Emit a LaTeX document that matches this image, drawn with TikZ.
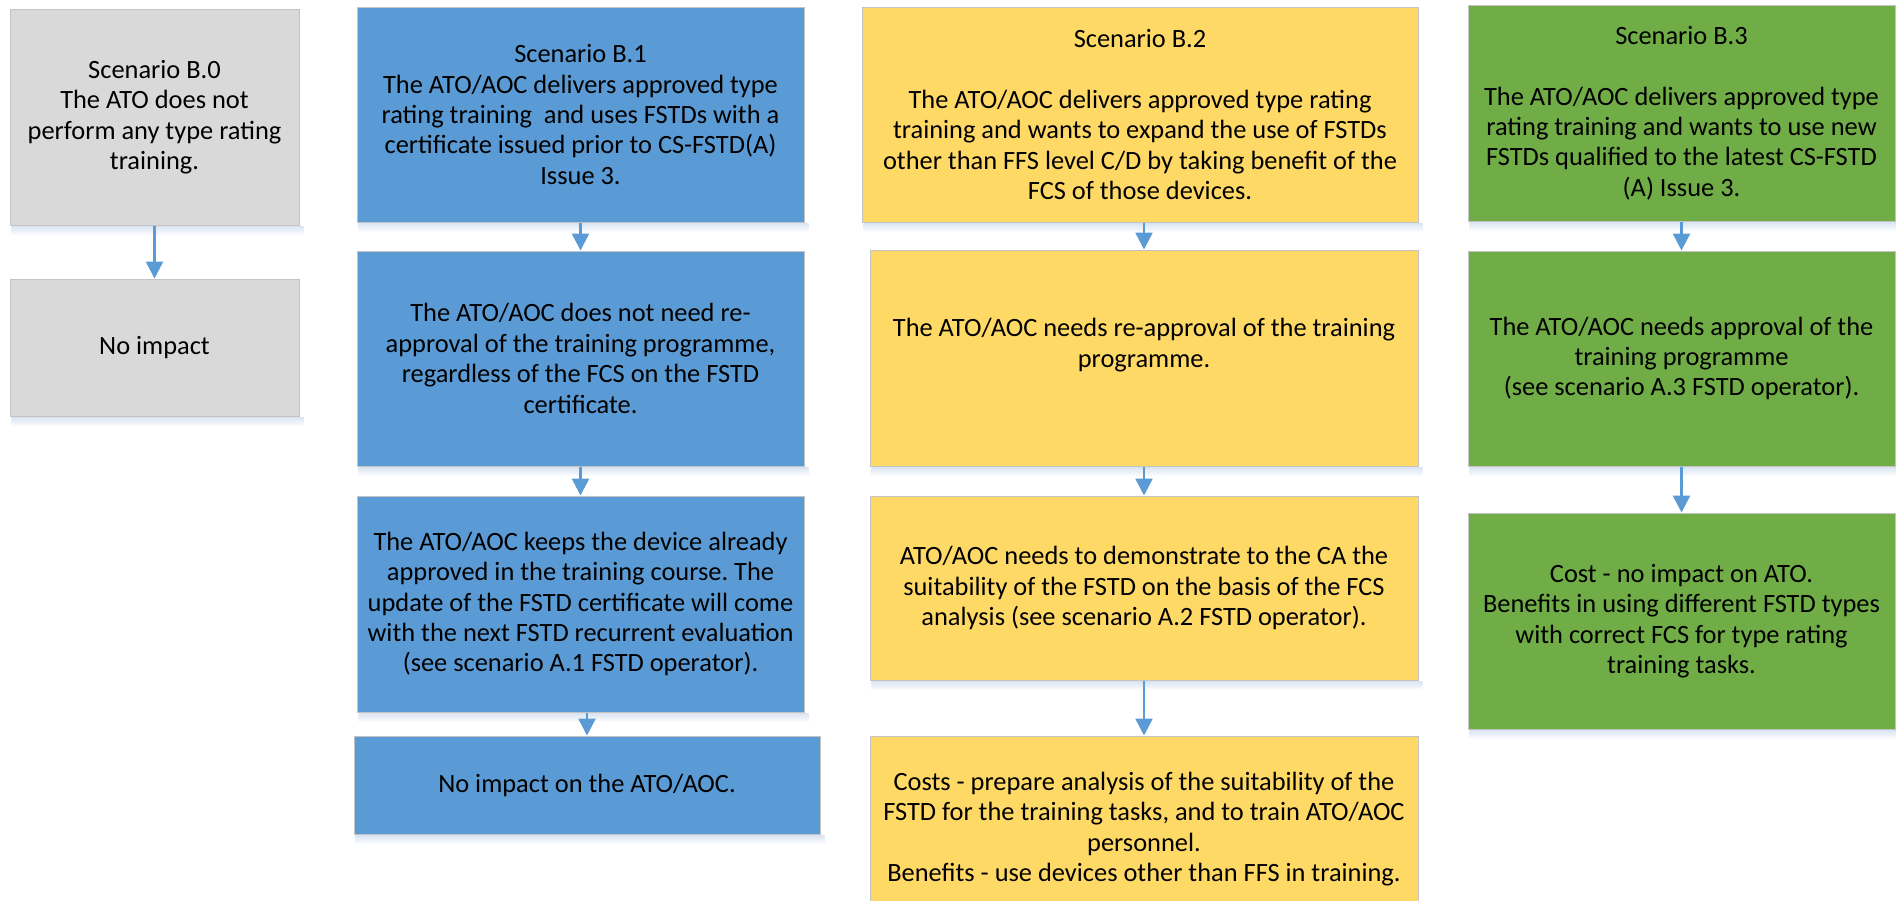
\documentclass[tikz,border=0pt]{standalone}
\usepackage{fontspec}
\setmainfont{Carlito}
\frenchspacing
\usetikzlibrary{arrows.meta}
\definecolor{cgray}{HTML}{D9D9D9}
\definecolor{cblue}{HTML}{5B9BD5}
\definecolor{cyellow}{HTML}{FFD966}
\definecolor{cgreen}{HTML}{70AD47}
\definecolor{cborder}{HTML}{C3C3C3}
\definecolor{cshadow}{HTML}{D9E4F2}
\definecolor{carrow}{HTML}{5B9BD5}
\tikzset{
  box/.style={rectangle, draw=cborder, line width=1pt, inner sep=0pt, align=center,
    font=\fontsize{26.4}{30.4}\selectfont, text=black},
  conn/.style={draw=carrow, line width=2.6pt, -{Triangle[width=17pt,length=17pt]}},
}
\begin{document}
\begin{tikzpicture}[x=1pt,y=-1pt]
\useasboundingbox (0,0) rectangle (1896,900);
\fill[white] (0,0) rectangle (1896,900);
% column B.0
\node[box, fill=cgray, minimum width=289pt, minimum height=216pt] (b0a) at (154.5,117)
  {Scenario B.0\\The ATO does not\\perform any type rating\\training.};
\node[box, fill=cgray, minimum width=289pt, minimum height=137pt] (b0b) at (154.5,347.5)
  {No impact};
% column B.1
\node[box, fill=cblue, minimum width=447pt, minimum height=215pt] (b1a) at (580.5,114.5)
  {Scenario B.1\\The ATO/AOC delivers approved type\\rating training~ and uses FSTDs with a\\certificate issued prior to CS-FSTD(A)\\Issue 3.};
\node[box, fill=cblue, minimum width=447pt, minimum height=215pt] (b1b) at (580.5,358.5)
  {The ATO/AOC does not need re-\\approval of the training programme,\\regardless of the FCS on the FSTD\\certificate.};
\node[box, fill=cblue, minimum width=447pt, minimum height=216pt] (b1c) at (580.5,604)
  {The ATO/AOC keeps the device already\\approved in the training course. The\\update of the FSTD certificate will come\\with the next FSTD recurrent evaluation\\(see scenario A.1 FSTD operator).};
\node[box, fill=cblue, minimum width=466pt, minimum height=98pt] (b1d) at (587,785)
  {No impact on the ATO/AOC.};
% column B.2
\node[box, fill=cyellow, minimum width=556pt, minimum height=215pt] (b2a) at (1140,114.5)
  {Scenario B.2\\[30.4pt]The ATO/AOC delivers approved type rating\\training and wants to expand the use of FSTDs\\other than FFS level C/D by taking benefit of the\\FCS of those devices.};
\node[box, fill=cyellow, minimum width=548pt, minimum height=216pt] (b2b) at (1144,358)
  {The ATO/AOC needs re-approval of the training\\programme.\\\mbox{}};
\node[box, fill=cyellow, minimum width=548pt, minimum height=184pt] (b2c) at (1144,588)
  {ATO/AOC needs to demonstrate to the CA the\\suitability of the FSTD on the basis of the FCS\\analysis (see scenario A.2 FSTD operator).};
\node[box, fill=cyellow, minimum width=548pt, minimum height=186pt] (b2d) at (1144,829)
  {Costs - prepare analysis of the suitability of the\\FSTD for the training tasks, and to train ATO/AOC\\personnel.\\Benefits - use devices other than FFS in training.};
% column B.3
\node[box, fill=cgreen, minimum width=427pt, minimum height=216pt] (b3a) at (1681.5,113)
  {Scenario B.3\\[30.4pt]The ATO/AOC delivers approved type\\rating training and wants to use new\\FSTDs qualified to the latest CS-FSTD\\(A) Issue 3.};
\node[box, fill=cgreen, minimum width=427pt, minimum height=215pt] (b3b) at (1681.5,358.5)
  {The ATO/AOC needs approval of the\\training programme\\(see scenario A.3 FSTD operator).};
\node[box, fill=cgreen, minimum width=427pt, minimum height=216pt] (b3c) at (1681.5,621)
  {Cost - no impact on ATO.\\Benefits in using different FSTD types\\with correct FCS for type rating\\training tasks.};
% soft shadows under the boxes
\foreach \n in {b0a,b0b,b1a,b1b,b1c,b1d,b2a,b2b,b2c,b3a,b3b,b3c}
  \shade[top color=cshadow, bottom color=white]
    ([xshift=2pt,yshift=-0.5pt]\n.south west) rectangle ([xshift=4pt,yshift=-10pt]\n.south east);
% connectors
\draw[conn] (b0a.south) -- (b0b.north);
\draw[conn] (b1a.south) -- (b1b.north);
\draw[conn] (b1b.south) -- (b1c.north);
\draw[conn] (b1c.south -| b1d.north) -- (b1d.north);
\draw[conn] (b2a.south -| b2b.north) -- (b2b.north);
\draw[conn] (b2b.south) -- (b2c.north);
\draw[conn] (b2c.south) -- (b2d.north);
\draw[conn] (b3a.south) -- (b3b.north);
\draw[conn] (b3b.south) -- (b3c.north);
\end{tikzpicture}
\end{document}
